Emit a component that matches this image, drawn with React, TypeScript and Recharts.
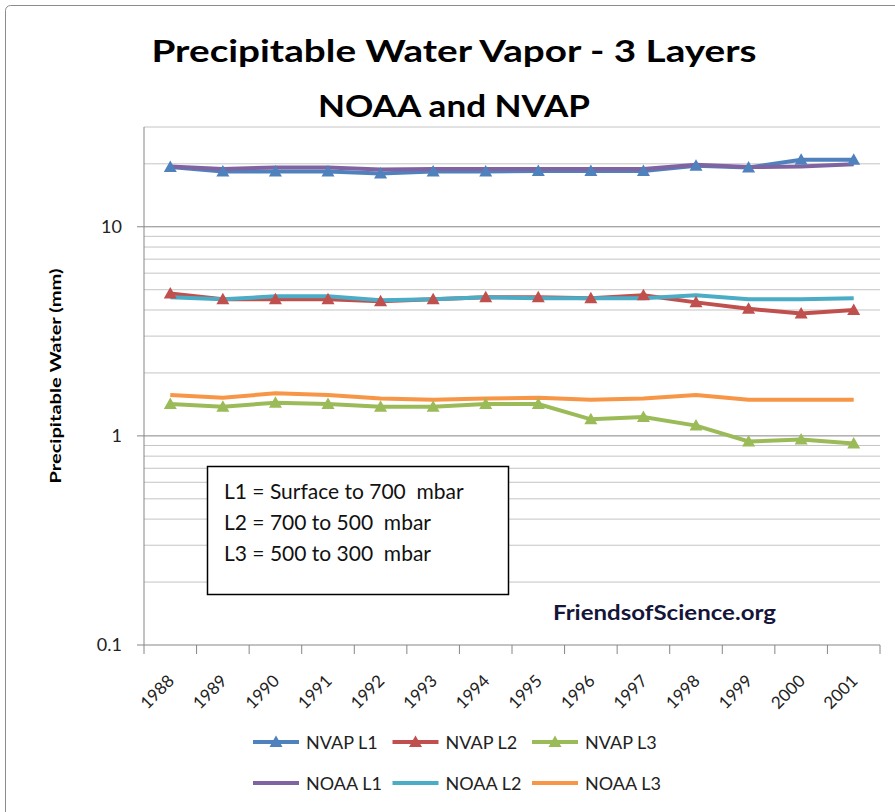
import React from "react";
import { LineChart, Line, XAxis, YAxis, CartesianGrid } from "recharts";

const years = ["1988", "1989", "1990", "1991", "1992", "1993", "1994", "1995", "1996", "1997", "1998", "1999", "2000", "2001"];

const nvapL1 = [19.3, 18.4, 18.4, 18.4, 18.0, 18.4, 18.4, 18.5, 18.5, 18.5, 19.6, 19.2, 20.9, 20.9];
const nvapL2 = [4.8, 4.5, 4.5, 4.5, 4.4, 4.5, 4.6, 4.6, 4.55, 4.7, 4.35, 4.05, 3.85, 4.0];
const nvapL3 = [1.42, 1.38, 1.44, 1.42, 1.38, 1.38, 1.42, 1.42, 1.2, 1.23, 1.12, 0.94, 0.96, 0.92];
const noaaL1 = [19.4, 18.9, 19.2, 19.2, 18.8, 18.9, 18.9, 18.9, 18.9, 18.9, 19.8, 19.3, 19.4, 19.9];
const noaaL2 = [4.6, 4.5, 4.65, 4.65, 4.45, 4.5, 4.6, 4.55, 4.55, 4.55, 4.7, 4.5, 4.5, 4.55];
const noaaL3 = [1.57, 1.52, 1.6, 1.57, 1.51, 1.49, 1.51, 1.52, 1.49, 1.51, 1.57, 1.49, 1.49, 1.49];

const yTicks = [0.1, 1, 10];
const majorGrid = [1, 10];
const minorGrid = [0.2, 0.3, 0.4, 0.5, 0.6, 0.7, 0.8, 0.9, 2, 3, 4, 5, 6, 7, 8, 9, 20, 30];

const notes = ["L1 = Surface to 700  mbar", "L2 = 700 to 500  mbar", "L3 = 500 to 300  mbar"];

const series = [
  { key: "nvapL1", name: "NVAP L1", color: "#4F81BD", values: nvapL1, marker: true },
  { key: "nvapL2", name: "NVAP L2", color: "#C0504D", values: nvapL2, marker: true },
  { key: "nvapL3", name: "NVAP L3", color: "#9BBB59", values: nvapL3, marker: true },
  { key: "noaaL1", name: "NOAA L1", color: "#8064A2", values: noaaL1, marker: false },
  { key: "noaaL2", name: "NOAA L2", color: "#4BACC6", values: noaaL2, marker: false },
  { key: "noaaL3", name: "NOAA L3", color: "#F79646", values: noaaL3, marker: false },
];

const data = years.map((year, i) => {
  const row: Record<string, string | number> = { year };
  series.forEach((s) => (row[s.key] = s.values[i]));
  return row;
});

const FONT = "Lato, 'Open Sans', sans-serif";
const AXIS = "#868686";
const PLOT_LEFT = 144;
const PLOT_RIGHT = 880;
const STEP = (PLOT_RIGHT - PLOT_LEFT) / years.length;

function triangle(color: string) {
  return (props: any) => {
    const { cx, cy, index } = props;
    if (cx == null || cy == null) return <g key={index} />;
    return (
      <path
        key={index}
        d={`M${cx},${cy - 6.5} L${cx + 6.5},${cy + 5} L${cx - 6.5},${cy + 5} Z`}
        fill={color}
      />
    );
  };
}

function YearTick(props: any) {
  const { x, y, payload, index } = props;
  const half = STEP / 2;
  return (
    <g>
      <line x1={x - half} y1={y} x2={x - half} y2={y + 9} stroke={AXIS} />
      {index === years.length - 1 && (
        <line x1={x + half} y1={y} x2={x + half} y2={y + 9} stroke={AXIS} />
      )}
      <text
        transform={`translate(${x + 5},${y + 37}) rotate(-45)`}
        textAnchor="end"
        fontSize={17}
        fontFamily={FONT}
        fill="#222"
      >
        {payload.value}
      </text>
    </g>
  );
}

function LegendRow({ items, y }: { items: typeof series; y: number }) {
  return (
    <g>
      {items.map((s, i) => {
        const x = 253 + i * 139.5;
        return (
          <g key={s.key}>
            <line x1={x} y1={y} x2={x + 46} y2={y} stroke={s.color} strokeWidth={4} />
            {s.marker && triangle(s.color)({ cx: x + 23, cy: y, index: 0 })}
            <text x={x + 53} y={y + 6.5} fontSize={18} fontFamily={FONT} fill="#222">
              {s.name}
            </text>
          </g>
        );
      })}
    </g>
  );
}

export default function App() {
  return (
    <div
      style={{
        position: "absolute",
        left: 0,
        top: 0,
        width: 895,
        height: 812,
        overflow: "hidden",
        background: "#fff",
      }}
    >
      <LineChart
        width={895}
        height={812}
        data={data}
        margin={{ top: 127, right: 15, bottom: 127, left: 0 }}
      >
        <CartesianGrid vertical={false} horizontalValues={minorGrid} stroke="#c4c4c4" />
        <CartesianGrid vertical={false} horizontalValues={majorGrid} stroke={AXIS} />
        <XAxis
          dataKey="year"
          height={40}
          padding={{ left: STEP / 2, right: STEP / 2 }}
          interval={0}
          tickLine={false}
          tickSize={0}
          tickMargin={0}
          axisLine={{ stroke: AXIS }}
          tick={<YearTick />}
        />
        <YAxis
          type="number"
          scale="log"
          domain={[0.1, 30]}
          allowDataOverflow
          ticks={yTicks}
          interval={0}
          width={144}
          tickSize={7}
          tickMargin={15}
          axisLine={{ stroke: AXIS }}
          tickLine={{ stroke: AXIS }}
          tickFormatter={(v) => String(v)}
          tick={{ fontSize: 18, fill: "#222", fontFamily: FONT }}
        />
        {series.map((s) => (
          <Line
            key={s.key}
            dataKey={s.key}
            name={s.name}
            type="linear"
            stroke={s.color}
            strokeWidth={4}
            dot={s.marker ? triangle(s.color) : false}
            activeDot={false}
            isAnimationActive={false}
          />
        ))}
      </LineChart>
      <svg
        width={895}
        height={812}
        style={{ position: "absolute", left: 0, top: 0, pointerEvents: "none" }}
      >
        <rect x={5.5} y={5.5} width={910} height={830} rx={5} fill="none" stroke="#8c8c8c" />
        <text x={454} y={62} textAnchor="middle" fontSize={31} fontWeight={700} fontFamily={FONT} fill="#000" textLength={605} lengthAdjust="spacingAndGlyphs">
          Precipitable Water Vapor - 3 Layers
        </text>
        <text x={454} y={117} textAnchor="middle" fontSize={31} fontWeight={700} fontFamily={FONT} fill="#000" textLength={272} lengthAdjust="spacingAndGlyphs">
          NOAA and NVAP
        </text>
        <text
          transform="translate(61,376) rotate(-90)"
          textAnchor="middle"
          fontSize={16}
          fontWeight={700}
          fontFamily={FONT}
          fill="#000"
          textLength={215}
          lengthAdjust="spacingAndGlyphs"
        >
          Precipitable Water (mm)
        </text>
        <rect x={207.5} y={466.5} width={301} height={128} fill="#fff" stroke="#000" strokeWidth={1.5} />
        {notes.map((n, i) => (
          <text key={n} x={224} y={499 + i * 31} fontSize={21} fontFamily={FONT} fill="#111" style={{ whiteSpace: "pre" }}>
            {n}
          </text>
        ))}
        <text x={553} y={620} fontSize={20} fontWeight={700} fontFamily={FONT} fill="#15153a" textLength={223} lengthAdjust="spacingAndGlyphs">
          FriendsofScience.org
        </text>
        <LegendRow items={series.slice(0, 3)} y={742} />
        <LegendRow items={series.slice(3)} y={783} />
      </svg>
    </div>
  );
}
